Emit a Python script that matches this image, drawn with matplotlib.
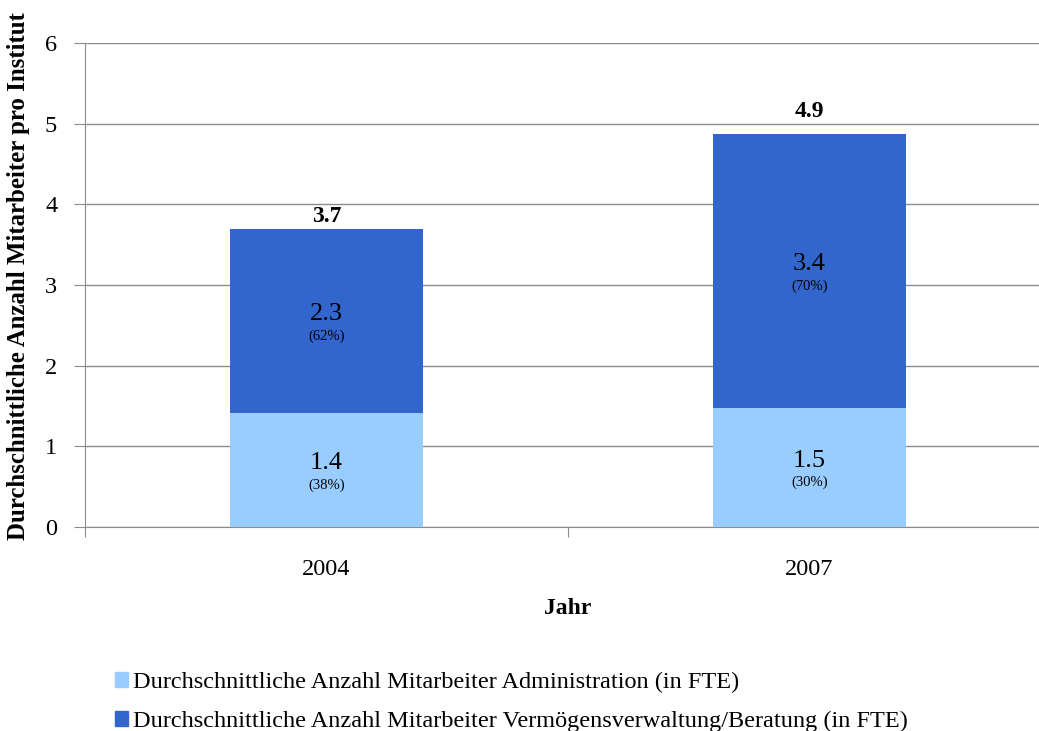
import matplotlib
matplotlib.use("Agg")
import matplotlib.pyplot as plt
from matplotlib.patches import Patch

years = ["2004", "2007"]
admin = [1.41, 1.47]
advisory = [2.29, 3.40]
admin_labels = ["1.4", "1.5"]
advisory_labels = ["2.3", "3.4"]
admin_pct = ["(38%)", "(30%)"]
advisory_pct = ["(62%)", "(70%)"]
totals = ["3.7", "4.9"]
series_names = ["Durchschnittliche Anzahl Mitarbeiter Administration (in FTE)",
                "Durchschnittliche Anzahl Mitarbeiter Vermögensverwaltung/Beratung (in FTE)"]

plt.rcParams['font.family'] = ['Liberation Serif', 'DejaVu Serif']

c_light = "#99CCFF"
c_dark = "#3366CC"
gridc = "#8c8c8c"

fig = plt.figure(figsize=(10.39, 7.31), dpi=100)
W, H = 1039, 731
left, right, top, bottom = 85, 1051, 43, 527
ax = fig.add_axes([left / W, 1 - bottom / H, (right - left) / W, (bottom - top) / H])

x = list(range(len(years)))
ax.bar(x, admin, width=0.4, color=c_light, zorder=3)
ax.bar(x, advisory, width=0.4, bottom=admin, color=c_dark, zorder=3)

total_offsets = [13, 24]  # pixel offset of the total label above the bar top
for i in x:
    a, b = admin[i], advisory[i]
    for mid, num, pct in [(a / 2, admin_labels[i], admin_pct[i]),
                          (a + b / 2, advisory_labels[i], advisory_pct[i])]:
        ax.annotate(num, (i, mid), xytext=(0, 7), textcoords='offset pixels',
                    ha='center', va='center', fontsize=19, zorder=4)
        ax.annotate(pct, (i, mid), xytext=(0, -15), textcoords='offset pixels',
                    ha='center', va='center', fontsize=10.5, zorder=4)
    ax.annotate(totals[i], (i, a + b), xytext=(0, total_offsets[i] - 1), textcoords='offset pixels',
                ha='center', va='center', fontsize=17, fontweight='bold', zorder=4)

ax.set_xlim(-0.5, 1.5)
ax.set_ylim(0, 6)
ax.set_yticks(range(0, 7))
ax.yaxis.grid(True, color=gridc, linewidth=1.0, zorder=0)
ax.set_axisbelow(True)
ax.set_xticks([-0.5, 0.5, 1.5], minor=False)
ax.set_xticklabels(["", "", ""])
ax.set_xticks(x, minor=True)
ax.set_xticklabels(years, minor=True, fontsize=17.5)
ax.tick_params(axis='x', which='minor', length=0, pad=23)
ax.tick_params(axis='x', which='major', length=7, color=gridc, direction='out')
ax.tick_params(axis='y', length=8, color=gridc, labelsize=17.5, pad=12)
for s in ['top', 'right']:
    ax.spines[s].set_visible(False)
ax.spines['left'].set_color(gridc)
ax.spines['bottom'].set_color(gridc)

ax.set_ylabel("Durchschnittliche Anzahl Mitarbeiter pro Institut", fontsize=17.9, fontweight='bold')
ax.yaxis.label.set_va('center')
ax.yaxis.set_label_coords(-66 / (right - left), (bottom - 276) / (bottom - top))
ax.set_xlabel("Jahr", fontsize=17, fontweight='bold')
ax.xaxis.set_label_coords(0.5, -(608 - bottom) / (bottom - top))
ax.xaxis.label.set_va('center')

handles = [Patch(color=c_light), Patch(color=c_dark)]
fig.legend(handles, series_names, loc='upper left', bbox_to_anchor=(115 / W, 1 - 672 / H),
           frameon=False, fontsize=17.5, handlelength=0.55, handleheight=0.55,
           handletextpad=0.2, labelspacing=0.72, borderaxespad=0, borderpad=0)

fig.savefig("out.png", dpi=100)
